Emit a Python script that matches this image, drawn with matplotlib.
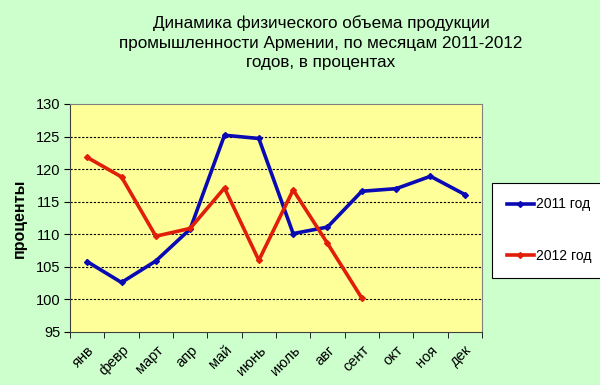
import numpy as np
import matplotlib
matplotlib.use('Agg')
import matplotlib.pyplot as plt

months = ['янв', 'февр', 'март', 'апр', 'май', 'июнь', 'июль', 'авг', 'сент', 'окт', 'ноя', 'дек']
y2011 = [105.8, 102.6, 105.9, 110.8, 125.2, 124.7, 110.1, 111.1, 116.6, 117.0, 118.9, 116.1]
y2012 = [121.8, 118.8, 109.7, 110.9, 117.1, 106.0, 116.8, 108.6, 100.2]
yticks = [95, 100, 105, 110, 115, 120, 125, 130]

plt.rcParams['font.family'] = ['Liberation Sans', 'DejaVu Sans']

fig = plt.figure(figsize=(6, 3.85), dpi=100, facecolor='#CCFFCC')
ax = fig.add_axes([0.1167, 0.1377, 0.6866, 0.5923])
ax.set_facecolor('#FFFF99')

x = np.arange(len(months))
ax.plot(x, y2011, color='#0A0AB4', lw=2.6, marker='D', ms=3, label='2011 год', zorder=3)
ax.plot(np.arange(len(y2012)), y2012, color='#E01E0A', lw=2.6, marker='D', ms=3, label='2012 год', zorder=3)

ax.set_xlim(-0.5, 11.5)
ax.set_ylim(95, 130)
ax.set_yticks(yticks)
ax.tick_params(axis='y', labelsize=10.5, length=4, direction='out', pad=3)
ax.set_xticks(x)
ax.set_xticklabels(months, rotation=45, ha='right', rotation_mode='anchor', fontsize=10.5)
ax.tick_params(axis='x', which='major', length=0, pad=8)
ax.set_xticks(np.arange(-0.5, 12, 1), minor=True)
ax.tick_params(axis='x', which='minor', length=4, direction='out')

for v in yticks[1:-1]:
    ax.axhline(v, color='black', lw=0.8, ls=(0, (2, 1.5)), zorder=1)

for s in ['top', 'right']:
    ax.spines[s].set_color('#808080')
for s in ['left', 'bottom']:
    ax.spines[s].set_color('#404040')

ax.set_ylabel('проценты', fontsize=11.5, fontweight='bold', labelpad=6)

fig.text(0.535, 0.889, 'Динамика физического объема продукции\nпромышленности Армении, по месяцам 2011-2012\nгодов, в процентах',
         ha='center', va='center', fontsize=12.3, linespacing=1.38)

leg = fig.legend(loc='upper left', bbox_to_anchor=(0.82, 0.525), borderaxespad=0, fontsize=10,
                 frameon=True, fancybox=False, edgecolor='black', framealpha=1,
                 labelspacing=2.7, handlelength=2.0, handletextpad=0.1, borderpad=1.05)
leg.get_frame().set_linewidth(0.8)

fig.savefig('out.png', dpi=100, facecolor=fig.get_facecolor())
